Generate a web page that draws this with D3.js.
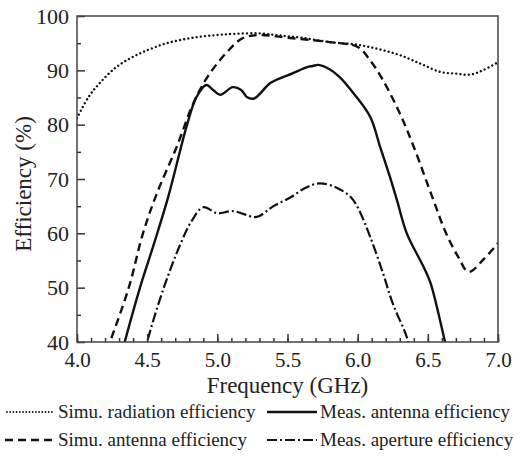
<!DOCTYPE html>
<html>
<head>
<meta charset="utf-8">
<script src="https://cdn.jsdelivr.net/npm/d3@7"></script>
<style>
  body { margin: 0; background: #fff; }
</style>
</head>
<body>
<div id="chart"></div>
<script>
var width  = 521;
var height = 456;
var serif = "'Liberation Serif', 'Times New Roman', Times, serif";

// Plot margins
var m = { left: 77, right: 23, top: 16, bottom: 114 };

// Series: [frequency GHz, efficiency %]
var simuRadiation = [
  [4.0, 81.2], [4.08, 85.0], [4.16, 87.6], [4.28, 90.6], [4.40, 92.5],
  [4.52, 93.9], [4.64, 95.0], [4.76, 95.7], [4.88, 96.2], [5.0, 96.5],
  [5.11, 96.7], [5.30, 96.8], [5.45, 96.4], [5.6, 96.0], [5.8, 95.2],
  [6.0, 94.7], [6.15, 93.9], [6.3, 92.8], [6.45, 91.2], [6.59, 89.7],
  [6.7, 89.4], [6.8, 89.2], [6.9, 90.1], [7.0, 91.5]
];
var simuAntenna = [
  [4.15, 34.0], [4.235, 40.0], [4.37, 50.1], [4.47, 60.0], [4.57, 67.4],
  [4.71, 75.9], [4.83, 84.0], [4.93, 88.8], [5.07, 93.4], [5.18, 95.9],
  [5.3, 96.5], [5.5, 96.0], [5.8, 95.2], [6.0, 94.3], [6.09, 91.8],
  [6.18, 88.2], [6.30, 82.1], [6.40, 75.9], [6.54, 66.1], [6.63, 60.0],
  [6.72, 55.5], [6.79, 52.9], [6.9, 55.3], [7.0, 58.2]
];
var measAntenna = [
  [4.28, 34.0], [4.34, 40.0], [4.45, 50.1], [4.55, 58.2], [4.65, 66.7],
  [4.78, 79.6], [4.85, 85.0], [4.92, 87.3], [4.97, 86.4], [5.02, 85.5],
  [5.11, 86.9], [5.17, 86.4], [5.21, 85.1], [5.26, 84.8], [5.30, 85.6],
  [5.38, 87.7], [5.54, 89.5], [5.64, 90.6], [5.68, 90.8], [5.72, 91.0],
  [5.80, 90.2], [5.87, 88.8], [5.97, 85.8], [6.09, 81.4], [6.16, 75.9],
  [6.23, 70.4], [6.28, 66.1], [6.35, 60.0], [6.47, 53.8], [6.52, 50.8],
  [6.62, 40.3], [6.66, 36.0]
];
var measAperture = [
  [4.45, 34.0], [4.5, 40.0], [4.62, 50.1], [4.74, 58.2], [4.82, 62.4],
  [4.90, 64.8], [5.0, 63.7], [5.11, 64.1], [5.26, 63.0], [5.30, 63.2],
  [5.40, 65.0], [5.52, 66.6], [5.63, 68.4], [5.73, 69.2], [5.85, 68.4],
  [5.95, 66.7], [6.0, 64.8], [6.09, 59.3], [6.18, 52.7], [6.25, 47.1],
  [6.35, 40.9], [6.40, 36.0]
];

var xTicks = [4.0, 4.5, 5.0, 5.5, 6.0, 6.5, 7.0];
var yTicks = [40, 50, 60, 70, 80, 90, 100];

var legendNames = [
  "Simu. radiation efficiency", "Meas. antenna efficiency",
  "Simu. antenna efficiency", "Meas. aperture efficiency"
];

var x = d3.scaleLinear().domain([4, 7]).range([m.left, width - m.right]);
var y = d3.scaleLinear().domain([40, 100]).range([height - m.bottom, m.top]);

var series = [
  { data: simuRadiation, dash: "0.01,4.2", cap: "round", w: 2.4 },
  { data: simuAntenna,   dash: "8,5", cap: "butt",  w: 2.4 },
  { data: measAntenna,   dash: null,  cap: "butt",  w: 2.4 },
  { data: measAperture,  dash: "10,3,2,3", cap: "butt", w: 2.2 }
];

var svg = d3.select("#chart")
  .append("svg")
  .attr("width", width)
  .attr("height", height);

svg.append("clipPath")
  .attr("id", "clip")
  .append("rect")
  .attr("x", m.left)
  .attr("y", m.top)
  .attr("width", width - m.left - m.right)
  .attr("height", height - m.top - m.bottom);

var line = d3.line()
  .x(function(d) { return x(d[0]); })
  .y(function(d) { return y(d[1]); })
  .curve(d3.curveCatmullRom.alpha(0.5));

svg.append("g")
  .attr("clip-path", "url(#clip)")
  .selectAll("path")
  .data(series)
  .enter()
  .append("path")
  .attr("d", function(d) { return line(d.data); })
  .attr("fill", "none")
  .attr("stroke", "#111")
  .attr("stroke-width", function(d) { return d.w; })
  .attr("stroke-linecap", function(d) { return d.cap; })
  .attr("stroke-dasharray", function(d) { return d.dash; });

// Bottom axis, ticks inward, minor every 0.1
var xAxis = d3.axisBottom(x)
  .tickValues(xTicks)
  .tickSize(-8)
  .tickPadding(10)
  .tickFormat(d3.format(".1f"));

var xMinor = d3.axisBottom(x)
  .tickValues(d3.range(40, 71).map(function(v) { return v / 10; }))
  .tickSize(-4)
  .tickFormat("");

svg.append("g")
  .attr("class", "xaxis")
  .attr("transform", "translate(0," + (height - m.bottom) + ")")
  .call(xAxis);
svg.append("g")
  .attr("transform", "translate(0," + (height - m.bottom) + ")")
  .call(xMinor);

var yAxis = d3.axisLeft(y)
  .tickValues(yTicks)
  .tickSize(-8)
  .tickPadding(8);

var yMinor = d3.axisLeft(y)
  .tickValues(d3.range(45, 100, 10))
  .tickSize(-4)
  .tickFormat("");

svg.append("g")
  .attr("transform", "translate(" + m.left + ",0)")
  .call(yAxis);
svg.append("g")
  .attr("transform", "translate(" + m.left + ",0)")
  .call(yMinor);

svg.selectAll(".domain").remove();
svg.selectAll(".tick line").attr("stroke", "#333").attr("stroke-width", 1.5);
svg.selectAll(".tick text")
  .attr("font-family", serif)
  .attr("font-size", 22)
  .attr("fill", "#222");
svg.selectAll(".xaxis .tick text").attr("font-size", 21);

// Frame
svg.append("rect")
  .attr("x", m.left)
  .attr("y", m.top)
  .attr("width", width - m.left - m.right)
  .attr("height", height - m.top - m.bottom)
  .attr("fill", "none")
  .attr("stroke", "#444")
  .attr("stroke-width", 1.5);

svg.append("text")
  .attr("x", (m.left + width - m.right) / 2)
  .attr("y", 393)
  .attr("text-anchor", "middle")
  .attr("font-family", serif)
  .attr("font-size", 23)
  .attr("fill", "#222")
  .text("Frequency (GHz)");

svg.append("text")
  .attr("transform", "translate(31,184)rotate(-90)")
  .attr("text-anchor", "middle")
  .attr("font-family", serif)
  .attr("font-size", 23)
  .attr("fill", "#222")
  .text("Efficiency (%)");

// Legend: 2 columns x 2 rows
var legendOrder = [0, 2, 1, 3]; // series index per legend slot
var leg = svg.append("g")
  .selectAll("g")
  .data(legendNames)
  .enter()
  .append("g")
  .attr("transform", function(d, i) {
    var col = i % 2, row = Math.floor(i / 2);
    return "translate(" + (col ? 267 : 5) + "," + (row ? 440 : 412) + ")";
  });

leg.append("line")
  .attr("x1", function(d, i) { return i === 0 ? 2 : 0; })
  .attr("x2", function(d, i) { return i % 2 ? 50 : 48; })
  .attr("y1", 0)
  .attr("y2", 0)
  .attr("stroke", "#111")
  .attr("stroke-width", function(d, i) { return i === 0 ? 1.8 : series[legendOrder[i]].w; })
  .attr("stroke-linecap", function(d, i) { return series[legendOrder[i]].cap; })
  .attr("stroke-dasharray", function(d, i) {
    return i === 0 ? "0.01,3.2" : series[legendOrder[i]].dash;
  });

leg.append("text")
  .attr("x", 53)
  .attr("y", 0)
  .attr("dy", "0.33em")
  .attr("font-family", serif)
  .attr("font-size", 19)
  .attr("fill", "#222")
  .text(function(d) { return d; });
</script>
</body>
</html>
